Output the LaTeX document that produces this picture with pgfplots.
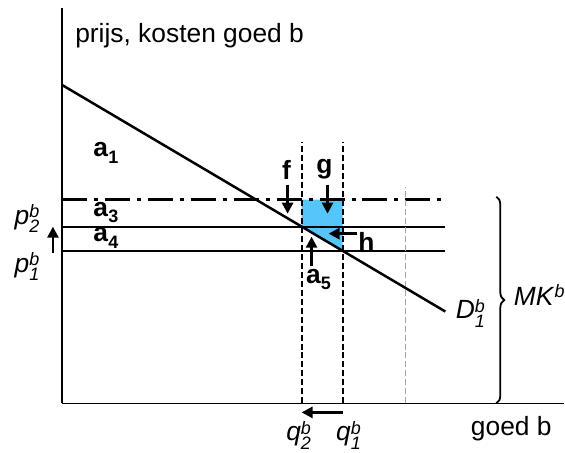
\documentclass[border=0pt]{standalone}
\usepackage{pgfplots}
\pgfplotsset{compat=1.18}
\usepackage{fontspec}
\setmainfont{Liberation Sans}
\usetikzlibrary{arrows.meta,decorations.pathreplacing}
\definecolor{fillblue}{RGB}{86,198,250}
\newcommand\sz{\fontsize{13.2}{15}\selectfont}
\newcommand\ssz{\fontsize{9}{9}\selectfont}
\newcommand\ps[3]{\textit{#1}\raisebox{-4.2pt}{\vbox{\ssz\itshape\baselineskip=7.3pt\lineskiplimit=-20pt\hbox{#2}\hbox{#3}}}}
\newcommand\ab[1]{\textbf{a}\raisebox{-0.25em}{\ssz\bfseries #1}}
\begin{document}
\begin{tikzpicture}[font=\sz]
\begin{axis}[x=0.5pt,y=0.5pt,xmin=0,xmax=503,ymin=0,ymax=396,
  axis x line*=bottom, axis y line*=left, ticks=none, clip=false,
  axis line style={line width=0.8pt,-}]
% blue area
\addplot[fill=fillblue,draw=none] coordinates {(240,204) (281,204) (281,153) (240,177)} -- cycle;
% horizontal lines
\addplot[line width=1.5pt, dash pattern=on 12.5pt off 3.5pt on 2pt off 3.5pt] coordinates {(0,204) (384,204)};
\addplot[line width=1.1pt] coordinates {(0,177) (384,177)};
\addplot[line width=1.1pt] coordinates {(0,153) (384,153)};
% verticals
\addplot[line width=1pt, dash pattern=on 3pt off 1.5pt] coordinates {(240,0) (240,262)};
\addplot[line width=1pt, dash pattern=on 3pt off 1.5pt] coordinates {(281,0) (281,262)};
\addplot[line width=0.9pt, gray!70, dash pattern=on 3pt off 1.5pt] coordinates {(344,0) (344,217)};
% demand
\addplot[line width=1.25pt] coordinates {(0,319) (384,92)};
% arrows
\pgfplotsset{arr/.style={line width=1.3pt,-{Triangle[length=5.5pt,width=5.5pt]}}}
\addplot[arr] coordinates {(226,219) (226,190)};
\addplot[arr] coordinates {(266,219) (266,190)};
\addplot[arr] coordinates {(296,170) (267,170)};
\addplot[arr] coordinates {(250,138) (250,167)};
\addplot[arr] coordinates {(281,-9) (240,-9)};
\addplot[arr] coordinates {(-9,151) (-9,177)};
% brace
\draw[line width=0.9pt, decorate, decoration={brace, amplitude=4pt, aspect=0.5}] (axis cs:435,207) -- (axis cs:435,0);
% labels
\tikzset{lab/.style={font=\sz,inner sep=0pt}}
\node[lab,anchor=base west] at (axis cs:13,361) {prijs, kosten goed b};
\node[lab] at (axis cs:44,251) {\ab{1}};
\node[lab] at (axis cs:44,191) {\ab{3}};
\node[lab] at (axis cs:44,166) {\ab{4}};
\node[lab] at (axis cs:225,234) {\textbf{f}};
\node[lab] at (axis cs:263,235) {\textbf{g}};
\node[lab] at (axis cs:305,162) {\textbf{h}};
\node[lab] at (axis cs:257,124) {\ab{5}};
\node[lab] at (axis cs:-35,185) {\ps{p}{b}{2}};
\node[lab] at (axis cs:-35,137) {\ps{p}{b}{1}};
\node[lab] at (axis cs:409,90) {\ps{D}{b}{1}};
\node[lab] at (axis cs:478,109) {\textit{MK}\raisebox{0.3em}{\ssz\itshape b}};
\node[lab] at (axis cs:237,-32) {\ps{q}{b}{2}};
\node[lab] at (axis cs:287,-32) {\ps{q}{b}{1}};
\node[lab] at (axis cs:450,-25) {goed b};
\path (axis cs:-62,-49) rectangle (axis cs:503,404);
\end{axis}
\end{tikzpicture}
\end{document}
